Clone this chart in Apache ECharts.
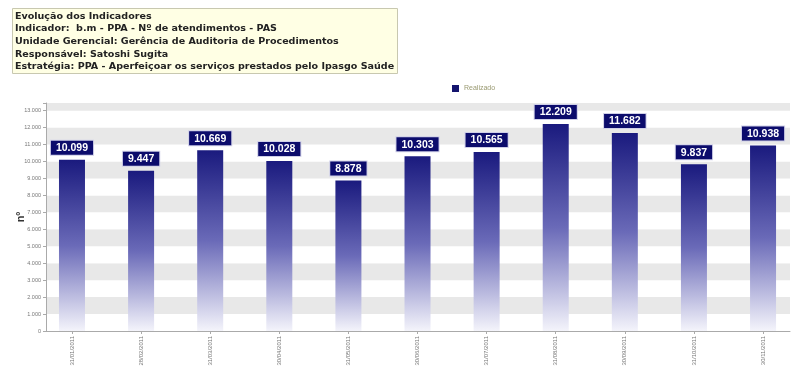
<!DOCTYPE html>
<html><head><meta charset="utf-8">
<script src="https://cdn.jsdelivr.net/npm/echarts@6/dist/echarts.min.js"></script>
<style>html,body{margin:0;padding:0;background:#fff}#c{width:807px;height:376px}</style>
</head><body><div id="c"></div>
<script>
const titleLines = [
  'Evolução dos Indicadores',
  'Indicador:  b.m - PPA - Nº de atendimentos - PAS',
  'Unidade Gerencial: Gerência de Auditoria de Procedimentos',
  'Responsável: Satoshi Sugita',
  'Estratégia: PPA - Aperfeiçoar os serviços prestados pelo Ipasgo Saúde'
];
const categories = ['31/01/2011','28/02/2011','31/03/2011','30/04/2011','31/05/2011','30/06/2011','31/07/2011','31/08/2011','30/09/2011','31/10/2011','30/11/2011'];
const realizado = [10099, 9447, 10669, 10028, 8878, 10303, 10565, 12209, 11682, 9837, 10938];
const seriesName = 'Realizado';
const yAxisName = 'nº';

function fmt(v){ return String(Math.round(v)).replace(/\B(?=(\d{3})+(?!\d))/g, '.'); }
const idx = categories.map((c,i)=>i);

const chart = echarts.init(document.getElementById('c'));
chart.setOption({
  animation: false,
  backgroundColor: '#fff',
  title: {
    text: titleLines.join('\n'),
    left: 12, top: 8,
    padding: [2, 4, 1, 3],
    backgroundColor: '#ffffe4',
    borderColor: '#c8c8b0', borderWidth: 1,
    textStyle: { fontFamily: 'DejaVu Sans', fontSize: 9.55, fontWeight: 'bold', color: '#222', lineHeight: 12.6 }
  },
  legend: {
    data: [seriesName],
    left: 447, top: 80,
    icon: 'rect', itemWidth: 7, itemHeight: 7, itemGap: 4,
    itemStyle: { color: '#14146e' },
    textStyle: { fontFamily: 'Liberation Sans', fontSize: 7, color: '#999970' }
  },
  grid: { left: 46, right: 17, top: 103, bottom: 45 },
  xAxis: {
    type: 'value',
    min: -0.376, max: 10.39,
    splitLine: { show: false },
    axisLine: { show: true, lineStyle: { color: '#aaa', width: 1 } },
    axisTick: { show: true, customValues: idx, length: 3, lineStyle: { color: '#aaa' } },
    axisLabel: {
      customValues: idx, rotate: 90, fontSize: 6, color: '#777', margin: 5,
      fontFamily: 'Liberation Sans',
      formatter: v => categories[Math.round(v)]
    }
  },
  yAxis: {
    type: 'value', min: 0, max: 13450, interval: 1000,
    name: yAxisName, nameLocation: 'middle', nameGap: 20, nameRotate: 90,
    nameMoveOverlap: false,
    nameTextStyle: { fontFamily: 'Liberation Sans', fontSize: 11, fontWeight: 'bold', color: '#333' },
    axisLine: { show: true, onZero: false, lineStyle: { color: '#aaa' } },
    axisTick: { show: true, length: 3, lineStyle: { color: '#aaa' } },
    axisLabel: { fontSize: 5.5, color: '#777', margin: 5, fontFamily: 'Liberation Sans',
      formatter: v => (v % 1000 === 0 ? fmt(v) : '') },
    splitLine: { show: false },
    splitArea: { show: true, areaStyle: { color: ['#ffffff', '#e8e8e8'] } }
  },
  series: [{
    name: seriesName,
    type: 'bar',
    barWidth: 26,
    data: realizado.map((v,i)=>[i, v]),
    itemStyle: {
      color: new echarts.graphic.LinearGradient(0,0,0,1,[
        {offset:0, color:'#1a1a7e'},
        {offset:0.5, color:'#6a6ab8'},
        {offset:1, color:'#f4f4fb'}
      ])
    },
    label: {
      show: true, position: 'top', distance: 5,
      formatter: p => fmt(p.value[1]),
      backgroundColor: '#0c0c6c', borderColor: '#d0d0e8', borderWidth: 1,
      padding: [2, 5, 1, 5],
      color: '#fff', fontWeight: 'bold', fontSize: 10.5, fontFamily: 'Liberation Sans'
    }
  }]
});
</script></body></html>
